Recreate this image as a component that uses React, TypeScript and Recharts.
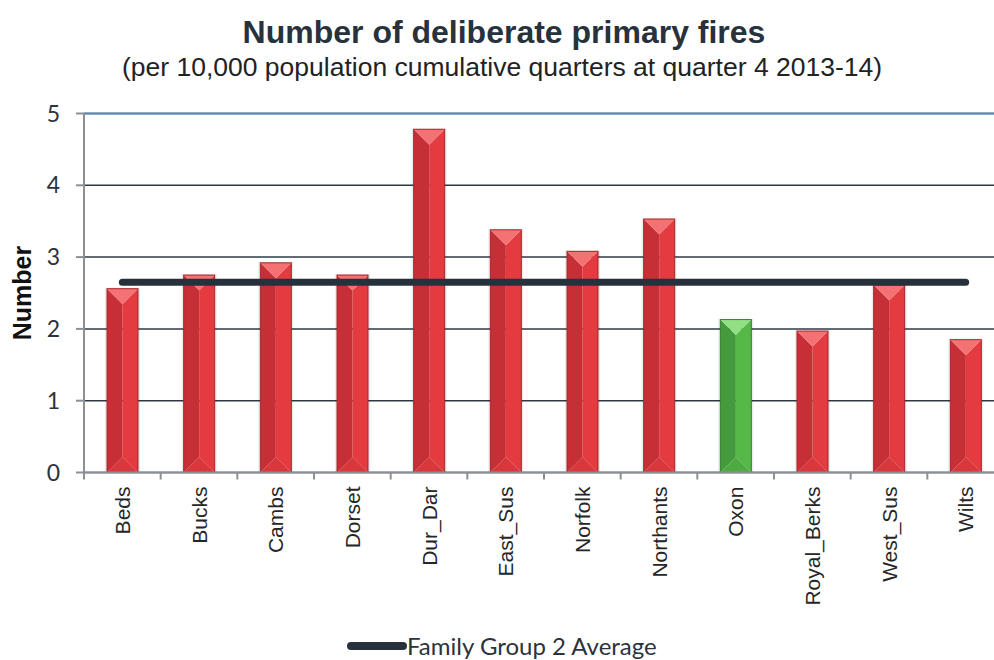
import React from "react";
import { ComposedChart, Bar, Line, XAxis, YAxis, CartesianGrid, ReferenceLine, Legend, Cell } from "recharts";

// values
const categories = ["Beds", "Bucks", "Cambs", "Dorset", "Dur_Dar", "East_Sus", "Norfolk", "Northants", "Oxon", "Royal_Berks", "West_Sus", "Wilts"];
const fires = [2.56, 2.75, 2.92, 2.75, 4.78, 3.38, 3.08, 3.53, 2.13, 1.97, 2.61, 1.85];
const familyAverage = [2.65, 2.65, 2.65, 2.65, 2.65, 2.65, 2.65, 2.65, 2.65, 2.65, 2.65, 2.65];
const yTicks = [0, 1, 2, 3, 4, 5];
const highlighted = "Oxon";

const data = categories.map((name, i) => ({ name, fires: fires[i], avg: familyAverage[i] }));

const CHART_W = 1010;
const CHART_H = 660;
const MARGIN = { top: 113.5, right: 6, bottom: 0, left: 0 };
const Y_AXIS_W = 84;
const X_AXIS_H = 187.5;
const BAND = (CHART_W - MARGIN.left - MARGIN.right - Y_AXIS_W) / categories.length;

const RED = "#e43b40";
const GREEN = "#57b84a";
const AXIS_GREY = "#8c9094";
const LINE_COLOR = "#27313c";

const palettes: Record<string, any> = {
  [RED]: { left: "#c62f35", right: "#e43b40", top: "#f47274", bottom: "#d8373c", edge: "#a9262b" },
  [GREEN]: { left: "#449a3c", right: "#57b84a", top: "#92e083", bottom: "#4dab42", edge: "#387e31" },
};

function BevelBar(props: any) {
  const { x, y, width: w, height: h, fill } = props;
  if (!h || h <= 0) return null;
  const p = palettes[fill] || palettes[RED];
  const b = Math.min(w / 2, h / 2);
  const cx = x + w / 2;
  return (
    <g>
      <rect x={x - 2} y={y - 1} width={w + 4} height={h + 1} fill="rgba(0,0,0,0.08)" />
      <polygon points={`${x},${y} ${cx},${y + b} ${cx},${y + h - b} ${x},${y + h}`} fill={p.left} />
      <polygon points={`${x + w},${y} ${cx},${y + b} ${cx},${y + h - b} ${x + w},${y + h}`} fill={p.right} />
      <polygon points={`${x},${y} ${x + w},${y} ${cx},${y + b}`} fill={p.top} />
      <polygon points={`${x},${y + h} ${x + w},${y + h} ${cx},${y + h - b}`} fill={p.bottom} />
      <rect x={x} y={y} width={w} height={h} fill="none" stroke={p.edge} strokeWidth={1} />
    </g>
  );
}

function CategoryTick(props: any) {
  const { x, y, payload } = props;
  const edge = x - BAND / 2;
  return (
    <g>
      <line x1={edge} x2={edge} y1={y - 14} y2={y - 7} stroke={AXIS_GREY} strokeWidth={2} />
      <text
        x={x}
        y={y}
        transform={`rotate(-90 ${x} ${y})`}
        textAnchor="end"
        dominantBaseline="central"
        fontFamily="'Liberation Sans', Arial, sans-serif"
        fontSize={21}
        fill="#262626"
      >
        {payload.value}
      </text>
    </g>
  );
}

const renderLegend = (props: any) => {
  const item = (props.payload || []).find((p: any) => p.dataKey === "avg");
  return (
    <div style={{ display: "flex", alignItems: "center", fontFamily: "Lato, 'Open Sans', sans-serif", fontSize: 24, lineHeight: "26px", color: "#2b333c" }}>
      <svg width={62} height={12}>
        <line x1={6} y1={6} x2={58} y2={6} stroke={LINE_COLOR} strokeWidth={8} strokeLinecap="round" />
      </svg>
      <span>{item ? item.value : "Family Group 2 Average"}</span>
    </div>
  );
};

const renderYLabel = (props: any) => {
  const vb = props.viewBox || {};
  const cx = 22;
  const cy = vb.y + vb.height / 2;
  return (
    <text
      x={cx}
      y={cy}
      transform={`rotate(-90 ${cx} ${cy})`}
      textAnchor="middle"
      dominantBaseline="central"
      fontFamily="'Liberation Sans', Arial, sans-serif"
      fontWeight="bold"
      fontSize={25}
      fill="#111"
    >
      Number
    </text>
  );
};

export default function App() {
  return (
    <div style={{ position: "absolute", left: 0, top: 0, width: 994, height: 660, overflow: "hidden", background: "#fff" }}>
      <div
        style={{
          position: "absolute",
          left: 0,
          top: 15,
          width: 1008,
          textAlign: "center",
          fontFamily: "'Liberation Sans', Arial, sans-serif",
          fontWeight: "bold",
          fontSize: 32,
          lineHeight: "35px",
          color: "#28323d",
        }}
      >
        Number of deliberate primary fires
      </div>
      <div
        style={{
          position: "absolute",
          left: 0,
          top: 52,
          width: 1004,
          textAlign: "center",
          fontFamily: "'Liberation Sans', Arial, sans-serif",
          fontSize: 26.5,
          lineHeight: "30px",
          color: "#222",
        }}
      >
        (per 10,000 population cumulative quarters at quarter 4 2013-14)
      </div>
      <ComposedChart width={CHART_W} height={CHART_H} data={data} margin={MARGIN}>
        <CartesianGrid vertical={false} stroke="#2e3844" strokeWidth={1.5} />
        <ReferenceLine y={5} stroke="#5a86bf" strokeWidth={2} />
        <XAxis
          dataKey="name"
          height={X_AXIS_H}
          interval={0}
          tickSize={6}
          tickMargin={8}
          tickLine={false}
          axisLine={{ stroke: AXIS_GREY, strokeWidth: 2 }}
          tick={<CategoryTick />}
        />
        <YAxis
          width={Y_AXIS_W}
          domain={[0, 5]}
          ticks={yTicks}
          tickSize={8}
          tickMargin={16}
          axisLine={{ stroke: AXIS_GREY, strokeWidth: 2 }}
          tickLine={{ stroke: AXIS_GREY, strokeWidth: 2 }}
          tick={{ fontFamily: "Lato, 'Open Sans', sans-serif", fontSize: 23, fill: "#2b333c" }}
          label={{ content: renderYLabel }}
        />
        <Bar dataKey="fires" name="Number" barSize={31} shape={<BevelBar />} isAnimationActive={false}>
          {data.map((d) => (
            <Cell key={d.name} fill={d.name === highlighted ? GREEN : RED} />
          ))}
        </Bar>
        <Line
          type="linear"
          dataKey="avg"
          name="Family Group 2 Average"
          stroke={LINE_COLOR}
          strokeWidth={7}
          strokeLinecap="round"
          dot={false}
          activeDot={false}
          isAnimationActive={false}
        />
        <Legend
          layout="horizontal"
          verticalAlign="middle"
          align="center"
          content={renderLegend}
          wrapperStyle={{ left: 345, top: 633, width: "auto", height: "auto" }}
        />
      </ComposedChart>
    </div>
  );
}
